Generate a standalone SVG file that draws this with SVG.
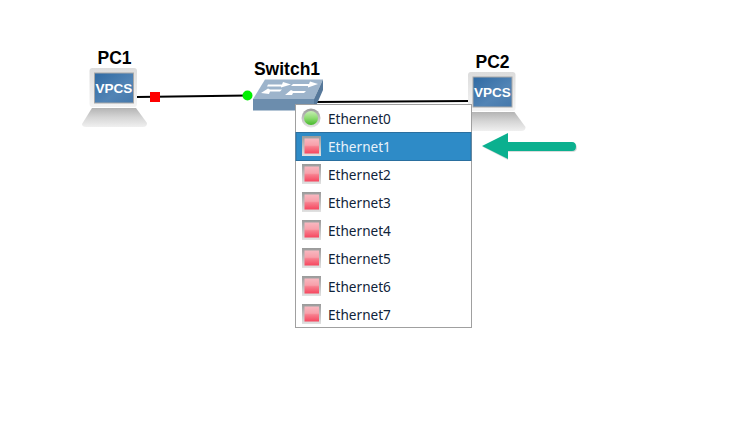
<svg xmlns="http://www.w3.org/2000/svg" width="745" height="426" viewBox="0 0 745 426">
<style>
.lbl{font:bold 17.500px "Liberation Sans",Arial,sans-serif;fill:#000;text-anchor:middle}
.item{font:13.600px "Noto Sans","Open Sans",sans-serif;fill:#10243a}
.vp{font:bold 13.500px "Liberation Sans",Arial,sans-serif;fill:#fff;text-anchor:middle}
.wire{stroke:#000;stroke-width:2;fill:none}
</style>
<defs>
<linearGradient id="mon" x1="0" y1="0" x2="0" y2="1"><stop offset="0" stop-color="#dcdcdc"/><stop offset="1" stop-color="#f4f4f4"/></linearGradient>
<linearGradient id="base" x1="0" y1="0" x2="0" y2="1"><stop offset="0" stop-color="#b4b4b4"/><stop offset="0.5" stop-color="#d6d6d6"/><stop offset="1" stop-color="#f0f0f0"/></linearGradient>
<linearGradient id="scr" x1="0" y1="0" x2="1" y2="1"><stop offset="0" stop-color="#2f6aa3"/><stop offset="0.6" stop-color="#5284b5"/><stop offset="1" stop-color="#4578ab"/></linearGradient>
<linearGradient id="red" x1="0" y1="0" x2="0" y2="1"><stop offset="0" stop-color="#f8b8c0"/><stop offset="0.45" stop-color="#f8a0aa"/><stop offset="0.55" stop-color="#f77e8d"/><stop offset="1" stop-color="#f6475f"/></linearGradient>
<linearGradient id="redf" x1="0" y1="0" x2="0" y2="1"><stop offset="0" stop-color="#9a9a9a"/><stop offset="1" stop-color="#e2e2e2"/></linearGradient>
<linearGradient id="grn" x1="0" y1="0" x2="0" y2="1"><stop offset="0" stop-color="#c6eeb4"/><stop offset="0.5" stop-color="#8fdc72"/><stop offset="1" stop-color="#46b92c"/></linearGradient>
<linearGradient id="grnf" x1="0" y1="0" x2="0" y2="1"><stop offset="0" stop-color="#9a9a9a"/><stop offset="1" stop-color="#e6e6e6"/></linearGradient>
<g id="pc">
<path d="M82 124 L92 108 H136 L147 123 Q147 127 143 127 H86 Q82 127 82 124Z" fill="url(#base)"/>
<rect x="89.500" y="68" width="47.500" height="39" rx="3" fill="url(#mon)"/>
<rect x="94.500" y="73" width="39" height="30" fill="url(#scr)" stroke="#a8a8a8"/>
<text class="vp" x="114" y="93">VPCS</text>
</g>
<g id="rp">
<rect x="0" y="0" width="19" height="20" fill="url(#redf)"/>
<rect x="2.500" y="2.500" width="14.500" height="15" fill="url(#red)"/>
</g>
</defs>

<g id="connectors">
<line class="wire" x1="137" y1="97" x2="248" y2="95.500"/>
<line class="wire" x1="314" y1="102" x2="469" y2="101"/>
<rect x="150" y="92" width="10" height="10" fill="#fe0000"/>
<circle cx="247.500" cy="95.500" r="5" fill="#00f000"/>
</g>

<g id="PC1">
<use href="#pc"/>
<text class="lbl" x="114.500" y="64">PC1</text>
</g>
<g id="PC2">
<use href="#pc" x="378.500" y="4"/>
<text class="lbl" x="492.500" y="68">PC2</text>
</g>
<g id="Switch1">
<polygon points="253,99 265,79.500 323,79.500 314,99" fill="#9db4cb"/>
<polygon points="253,99 314,99 314,110.500 253,110.500" fill="#6c8dad"/>
<polygon points="314,99 323,79.500 323,90 314,110.500" fill="#56789a"/>
<g fill="#fff">
<polygon points="261,93 268,88.500 270,89.500 282,89.500 280,91.500 270,91.500 269,94"/>
<polygon points="268,84.500 282,84.500 283,82 291,84.500 281,87.500 281,86.500 267,86.500"/>
<polygon points="285,95 291,90 293,91 306,91 304,93 293,93 292,95"/>
<polygon points="293,84 309,84 310,81.500 318,84 308,87.500 308,86 291,86"/>
</g>
<text class="lbl" x="287" y="75">Switch1</text>
</g>

<g id="menu">
<rect x="295.500" y="104.500" width="176" height="223" fill="#fff" stroke="#a0a0a0"/>
<rect x="296" y="132.500" width="175" height="28" fill="#2e8bc7" stroke="#2a6f9f"/>
<circle cx="311" cy="118" r="9.500" fill="url(#grnf)"/>
<circle cx="311" cy="118" r="7" fill="url(#grn)"/>
<use href="#rp" x="302" y="136"/>
<use href="#rp" x="302" y="164"/>
<use href="#rp" x="302" y="192"/>
<use href="#rp" x="302" y="220"/>
<use href="#rp" x="302" y="248"/>
<use href="#rp" x="302" y="276"/>
<use href="#rp" x="302" y="304"/>
<text class="item" x="328" y="124">Ethernet0</text>
<text class="item" x="328" y="152" style="fill:#e8f2fa">Ethernet1</text>
<text class="item" x="328" y="180">Ethernet2</text>
<text class="item" x="328" y="208">Ethernet3</text>
<text class="item" x="328" y="236">Ethernet4</text>
<text class="item" x="328" y="264">Ethernet5</text>
<text class="item" x="328" y="292">Ethernet6</text>
<text class="item" x="328" y="320">Ethernet7</text>
</g>

<g id="arrow">
<path d="M483 147 L508 134 V143 H572 Q577 143 577 148 Q577 152 572 152 H508 V160Z" fill="#b8b8b8" opacity="0.5"/>
<path d="M482 146 L508 133 V142 H572 Q576 142 576 146.500 Q576 151 572 151 H508 V159Z" fill="#0bb08f"/>
</g>
</svg>
